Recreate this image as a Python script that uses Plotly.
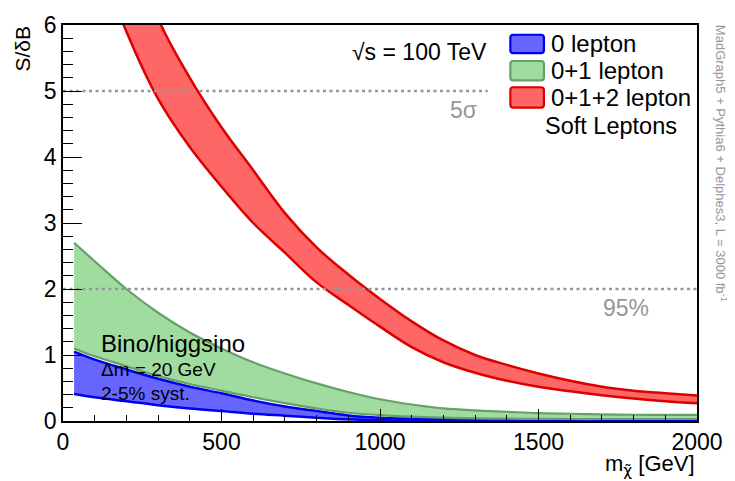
import plotly.graph_objects as go

# ---------------- data ----------------
mass = [35, 100, 200, 300, 400, 500, 600, 700, 800, 900, 1000,
        1100, 1200, 1300, 1400, 1500, 1600, 1700, 1800, 1900, 2000]

lep0_hi = [1.05, 0.93, 0.78, 0.64, 0.52, 0.42, 0.31, 0.22, 0.15, 0.085, 0.05,
           0.035, 0.025, 0.02, 0.018, 0.015, 0.013, 0.012, 0.011, 0.01, 0.01]
lep0_lo = [0.41, 0.36, 0.30, 0.24, 0.19, 0.15, 0.11, 0.08, 0.05, 0.025, 0.012,
           0.006, 0.004, 0.003, 0.003, 0.002, 0.002, 0.002, 0.002, 0.002, 0.002]

lep01_hi = [2.70, 2.42, 2.0, 1.64, 1.34, 1.10, 0.89, 0.72, 0.57, 0.44, 0.33,
            0.25, 0.19, 0.16, 0.14, 0.12, 0.11, 0.10, 0.095, 0.093, 0.092]
lep01_lo = [1.10, 0.98, 0.83, 0.68, 0.56, 0.46, 0.36, 0.27, 0.19, 0.125, 0.09,
            0.065, 0.05, 0.04, 0.035, 0.032, 0.03, 0.03, 0.03, 0.03, 0.03]

lep012_hi = [10.5, 9.2, 7.6, 6.1, 5.2, 4.45, 3.8, 3.15, 2.63, 2.22, 1.85,
             1.51, 1.22, 1.0, 0.85, 0.72, 0.61, 0.52, 0.46, 0.42, 0.386]
lep012_lo = [8.3, 7.2, 5.9, 4.88, 4.15, 3.55, 3.0, 2.55, 2.1, 1.76, 1.43,
             1.12, 0.89, 0.73, 0.61, 0.52, 0.45, 0.39, 0.34, 0.30, 0.27]

series_names = ["0 lepton", "0+1 lepton", "0+1+2 lepton"]

ref_levels = [5, 2]
ref_xmax = [1340, 2000]
ref_labels = ["5σ", "95%"]
ref_label_x = [1262, 1777]

x_ticks = [0, 500, 1000, 1500, 2000]
y_ticks = [0, 1, 2, 3, 4, 5, 6]

# ---------------- styles ----------------
FONT = "Liberation Sans, Arial, Helvetica, sans-serif"
fills = ["rgb(102,102,255)", "rgb(160,220,160)", "rgb(255,102,102)"]
edges = ["rgb(0,0,238)", "rgb(102,160,102)", "rgb(221,0,0)"]
edge_w = [2.5, 2.2, 2.5]
GREY = "rgb(150,150,150)"

W, H = 735, 481
L, R, T, B = 63, 30, 14, 60
pw, ph = W - L - R, H - T - B


def px(x):
    return (x - L) / pw


def py(y):
    return 1 - (y - T) / ph


fig = go.Figure()

bands = [(lep0_hi, lep0_lo), (lep01_hi, lep01_lo), (lep012_hi, lep012_lo)]
for i, (hi, lo) in enumerate(bands):
    fig.add_trace(go.Scatter(
        x=mass, y=lo, mode="lines",
        line=dict(color=edges[i], width=edge_w[i], shape="spline", smoothing=1),
        hoverinfo="skip", showlegend=False))
    fig.add_trace(go.Scatter(
        x=mass, y=hi, mode="lines", fill="tonexty", fillcolor=fills[i],
        line=dict(color=edges[i], width=edge_w[i], shape="spline", smoothing=1),
        hoverinfo="skip", showlegend=False))

# reference lines (on top of bands)
for lev, xm in zip(ref_levels, ref_xmax):
    fig.add_trace(go.Scatter(
        x=[0, xm], y=[lev, lev], mode="lines",
        line=dict(color=GREY, width=2.6, dash="3px,3.5px"),
        hoverinfo="skip", showlegend=False))

annotations = []
for lev, lab, lx in zip(ref_levels, ref_labels, ref_label_x):
    annotations.append(dict(x=lx, y=lev, xref="x", yref="y", text=lab,
                            showarrow=False, xanchor="center", yanchor="top",
                            yshift=-4, font=dict(family=FONT, size=23, color=GREY)))

# manual legend
shapes = []
box_y = [(24, 43), (51, 71), (78, 99)]
bx0, bx1 = 516, 550
rad = 3
for i, (y0, y1) in enumerate(box_y):
    rx = rad / pw
    ry = rad / ph
    x0, x1 = px(bx0), px(bx1)
    yt, yb = py(y0), py(y1)
    path = (f"M {x0+rx} {yt} L {x1-rx} {yt} Q {x1} {yt} {x1} {yt-ry} "
            f"L {x1} {yb+ry} Q {x1} {yb} {x1-rx} {yb} "
            f"L {x0+rx} {yb} Q {x0} {yb} {x0} {yb+ry} "
            f"L {x0} {yt-ry} Q {x0} {yt} {x0+rx} {yt} Z")
    shapes.append(dict(type="path", path=path, xref="paper", yref="paper",
                       fillcolor=fills[i], line=dict(color=edges[i], width=2.2),
                       layer="above"))
    annotations.append(dict(x=px(555), y=py((y0 + y1) / 2), xref="paper", yref="paper",
                            text=series_names[i], showarrow=False,
                            xanchor="left", yanchor="middle",
                            font=dict(family=FONT, size=24, color="black")))

annotations.append(dict(x=px(618), y=py(118), xref="paper", yref="paper",
                        text="Soft Leptons", showarrow=False,
                        xanchor="center", yanchor="middle",
                        font=dict(family=FONT, size=23.5, color="black")))

annotations.append(dict(x=px(494), y=py(42), xref="paper", yref="paper",
                        text="√s = 100 TeV", showarrow=False,
                        xanchor="right", yanchor="middle",
                        font=dict(family=FONT, size=23, color="black")))

annotations.append(dict(x=px(99), y=py(341), xref="paper", yref="paper",
                        text="Bino/higgsino", showarrow=False,
                        xanchor="left", yanchor="middle",
                        font=dict(family=FONT, size=24, color="black")))
annotations.append(dict(x=px(99), y=py(368), xref="paper", yref="paper",
                        text="Δm = 20 GeV", showarrow=False,
                        xanchor="left", yanchor="middle",
                        font=dict(family=FONT, size=19, color="black")))
annotations.append(dict(x=px(99), y=py(393), xref="paper", yref="paper",
                        text="2-5% syst.", showarrow=False,
                        xanchor="left", yanchor="middle",
                        font=dict(family=FONT, size=19, color="black")))

# axis titles
annotations.append(dict(x=px(22), y=py(13), xref="paper", yref="paper",
                        text="S/δB", showarrow=False, textangle=-90,
                        xanchor="center", yanchor="top",
                        font=dict(family=FONT, size=21, color="black")))
annotations.append(dict(x=px(705), y=py(450), xref="paper", yref="paper",
                        text="m<sub><span style='font-family:DejaVu Sans'>χ̃</span></sub> [GeV]",
                        showarrow=False,
                        xanchor="right", yanchor="top",
                        font=dict(family=FONT, size=22, color="black")))

# side text
annotations.append(dict(x=px(730), y=py(12), xref="paper", yref="paper",
                        text="MadGraph5 + Pythia6 + Delphes3, L = 3000 fb<sup>-1</sup>",
                        showarrow=False, textangle=90,
                        xanchor="center", yanchor="top",
                        font=dict(family=FONT, size=13, color=GREY)))

fig.update_layout(
    width=W, height=H,
    margin=dict(l=L, r=R, t=T, b=B, pad=0),
    paper_bgcolor="white", plot_bgcolor="white",
    showlegend=False,
    annotations=annotations, shapes=shapes,
    font=dict(family=FONT, color="black"),
)
fig.update_xaxes(
    range=[0, 2000], tickvals=x_ticks, ticktext=[str(v) for v in x_ticks],
    ticks="inside", ticklen=12, tickwidth=1.2, tickcolor="black",
    minor=dict(dtick=100, ticks="inside", ticklen=6, tickwidth=1, tickcolor="black"),
    showline=True, linecolor="black", linewidth=1.5, mirror=True,
    showgrid=False, zeroline=False,
    tickfont=dict(family=FONT, size=23, color="black"),
)
fig.update_yaxes(
    range=[0, 6], tickvals=y_ticks, ticktext=[str(v) for v in y_ticks],
    ticks="inside", ticklen=19, tickwidth=1.2, tickcolor="black",
    minor=dict(dtick=0.2, ticks="inside", ticklen=10, tickwidth=1, tickcolor="black"),
    showline=True, linecolor="black", linewidth=1.5, mirror=True,
    showgrid=False, zeroline=False,
    tickfont=dict(family=FONT, size=23, color="black"),
)

fig.write_html("out.html")
